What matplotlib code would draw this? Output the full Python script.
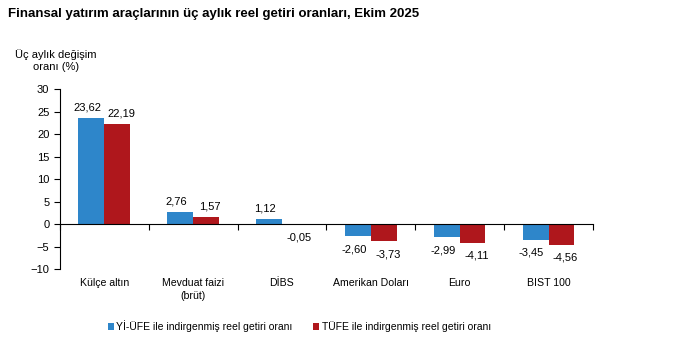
import numpy as np
import matplotlib.pyplot as plt
import matplotlib.transforms as mtransforms

plt.rcParams['font.family'] = ['Liberation Sans', 'DejaVu Sans']

kategoriler = ['Külçe altın', 'Mevduat faizi\n(brüt)', 'DİBS', 'Amerikan Doları', 'Euro', 'BIST 100']
yi_ufe = [23.62, 2.76, 1.12, -2.60, -2.99, -3.45]
tufe = [22.19, 1.57, -0.05, -3.73, -4.11, -4.56]
seri_adlari = ['Yİ-ÜFE ile indirgenmiş reel getiri oranı', 'TÜFE ile indirgenmiş reel getiri oranı']
renkler = ['#2E86CA', '#AF171C']

fig = plt.figure(figsize=(6.8, 3.43), dpi=100)
ax = fig.add_axes([0.088, 0.2157, 0.784, 0.5248])

x = np.arange(len(kategoriler))
w = 0.29
b1 = ax.bar(x - w / 2, yi_ufe, w, color=renkler[0], label=seri_adlari[0])
b2 = ax.bar(x + w / 2, tufe, w, color=renkler[1], label=seri_adlari[1])

def etiket(bars, vals, dx):
    # dx: etiketlerin birbirine çakışmaması için yatay kaydırma (punto)
    for b, v in zip(bars, vals):
        cx = b.get_x() + b.get_width() / 2
        txt = f'{v:.2f}'.replace('.', ',')
        if v >= 0:
            ax.annotate(txt, (cx, v), xytext=(dx, 4), textcoords='offset points',
                        ha='center', va='bottom', fontsize=8)
        else:
            ax.annotate(txt, (cx, v), xytext=(dx, -6), textcoords='offset points',
                        ha='center', va='top', fontsize=8)

etiket(b1, yi_ufe, -3)
etiket(b2, tufe, 3)

ax.set_xlim(-0.5, len(kategoriler) - 0.5)
ax.set_ylim(-10, 30)
ax.set_yticks(range(-10, 31, 5))
ax.tick_params(axis='y', labelsize=8, length=4, direction='out')

# x ekseni sıfır çizgisinde, tikler kategori sınırlarında
ax.spines['bottom'].set_position(('data', 0))
ax.set_xticks(np.arange(len(kategoriler) + 1) - 0.5)
ax.set_xticklabels([])
ax.tick_params(axis='x', length=4, direction='out')
for s in ['top', 'right']:
    ax.spines[s].set_visible(False)

trans = mtransforms.blended_transform_factory(ax.transData, ax.transAxes)
for xi, k in zip(x, kategoriler):
    ax.text(xi, -0.05, k, transform=trans, ha='center', va='top', fontsize=7.6, linespacing=1.35)

fig.text(0.012, 0.958, 'Finansal yatırım araçlarının üç aylık reel getiri oranları, Ekim 2025',
         fontsize=9.5, fontweight='bold', ha='left', va='center')
fig.text(0.082, 0.822, 'Üç aylık değişim\noranı (%)', fontsize=8, ha='center', va='center',
         linespacing=1.25)

fig.legend(handles=[b1, b2], labels=seri_adlari, loc='center', bbox_to_anchor=(0.44, 0.048),
           ncol=2, frameon=False, fontsize=7.5, handlelength=0.6, handleheight=0.6,
           handletextpad=0.2, columnspacing=2.0)

fig.savefig('out.png', dpi=100)
